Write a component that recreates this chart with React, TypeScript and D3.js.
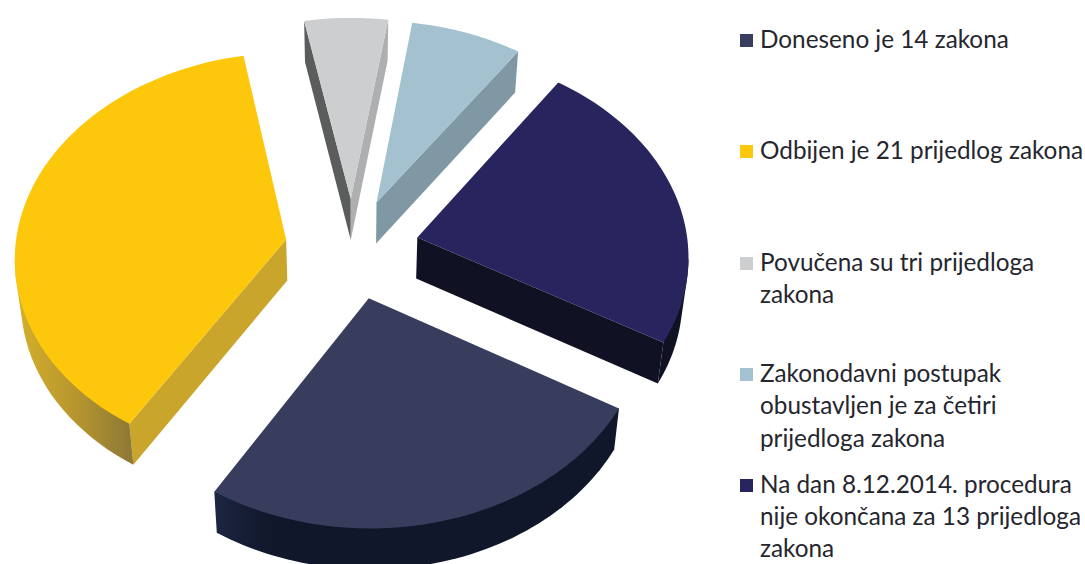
import React from "react";
import * as d3 from "d3";

const labels = [
  ["Doneseno je 14 zakona"],
  ["Odbijen je 21 prijedlog zakona"],
  ["Povučena su tri prijedloga", "zakona"],
  ["Zakonodavni postupak", "obustavljen je za četiri", "prijedloga zakona"],
  ["Na dan 8.12.2014. procedura", "nije okončana za 13 prijedloga", "zakona"],
];
const values = [14, 21, 3, 4, 13];
const topColors = ["#383d5e", "#fdc70c", "#cdced0", "#a3c1cf", "#27245e"];
const startWallColors = ["#10172a", "#c9a52c", "#5b5d5d", "#7f98a4", "#111124"];
const endWallColors = ["#10172a", "#c9a52c", "#aeafb1", "#7f98a4", "#111124"];
const arcWallStops = [
  ["#1b2642", "#12182c", "#10172a", "#10172a", "#10172a", "#10172a", "#10172a", "#10172a", "#10172a"],
  ["#d6b02b", "#b8982e", "#8f7a35"],
  ["#aeafb1", "#aeafb1"],
  ["#7f98a4", "#7f98a4"],
  ["#111124", "#111124"],
];
const legendY = [[40], [151], [263, 295], [374, 406, 439], [485, 517, 549]];

const cx = 352, cy = 248.5, R = 271, aspect = 0.75, k = 0.08, explode = 0.248;
const depth = 41, shrink = 0.982;

type P = [number, number];
const project = (u: number, v: number): P => {
  const s = 1 / (1 - k * v);
  return [cx + R * u * s, cy + R * aspect * v * s];
};
const lower = (p: P): P => [cx + (p[0] - cx) * shrink, p[1] + depth];
const line = d3.line<P>();

const pie = d3.pie<number>().sort(null).startAngle((120 * Math.PI) / 180).endAngle((480 * Math.PI) / 180);
const arcs = pie(values);

const slices = arcs.map((a, i) => {
  const mid = (a.startAngle + a.endAngle) / 2;
  const ou = explode * Math.sin(mid), ov = -explode * Math.cos(mid);
  const arcPts: P[] = d3.range(0, 61).map((j) => {
    const t = a.startAngle + ((a.endAngle - a.startAngle) * j) / 60;
    return project(ou + Math.sin(t), ov - Math.cos(t));
  });
  const tip = project(ou, ov);
  const run: P[] = [];
  let best: P[] = [];
  for (let j = 0; j < arcPts.length - 1; j++) {
    if (arcPts[j + 1][0] < arcPts[j][0]) {
      if (!run.length) run.push(arcPts[j]);
      run.push(arcPts[j + 1]);
      if (run.length > best.length) best = run.slice();
    } else run.length = 0;
  }
  const first = arcPts[0], last = arcPts[arcPts.length - 1];
  return { i, arcPts, tip, best, first, last };
});

const wall = (pts: P[]) => line([...pts, ...pts.slice().reverse().map(lower)]) + "Z";
const hullWall = (pts: P[]) => {
  const hull = d3.polygonHull([...pts, ...pts.map(lower)]);
  return hull ? line(hull) + "Z" : "";
};

export default function App() {
  return (
    <svg width={1085} height={564} style={{ position: "absolute", left: 0, top: 0, background: "#fff" }}>
      <defs>
        {slices.map((s) => {
          const xs = s.best.map((p) => p[0]);
          if (!xs.length) return null;
          const stops = arcWallStops[s.i];
          return (
            <linearGradient key={s.i} id={`g${s.i}`} gradientUnits="userSpaceOnUse" x1={d3.min(xs)} x2={d3.max(xs)} y1={0} y2={0}>
              {stops.map((c, j) => (
                <stop key={j} offset={j / (stops.length - 1)} stopColor={c} />
              ))}
            </linearGradient>
          );
        })}
      </defs>
      {slices.map((s) => (
        <g key={s.i}>
          {s.tip[0] > s.first[0] && <path d={wall([s.tip, s.first])} fill={startWallColors[s.i]} />}
          {s.last[0] > s.tip[0] && <path d={wall([s.last, s.tip])} fill={endWallColors[s.i]} />}
          {s.best.length > 1 && <path d={hullWall(s.best)} fill={`url(#g${s.i})`} />}
          <path d={line([s.tip, ...s.arcPts]) + "Z"} fill={topColors[s.i]} />
        </g>
      ))}
      {labels.map((ls, i) => (
        <g key={i}>
          <rect x={740} y={legendY[i][0] - 6} width={13} height={13} fill={topColors[i]} />
          {ls.map((t, j) => (
            <text key={j} x={760} y={legendY[i][j] + 8} fontFamily="Lato" fontSize={24.3} fill="#26262e">
              {t}
            </text>
          ))}
        </g>
      ))}
    </svg>
  );
}
